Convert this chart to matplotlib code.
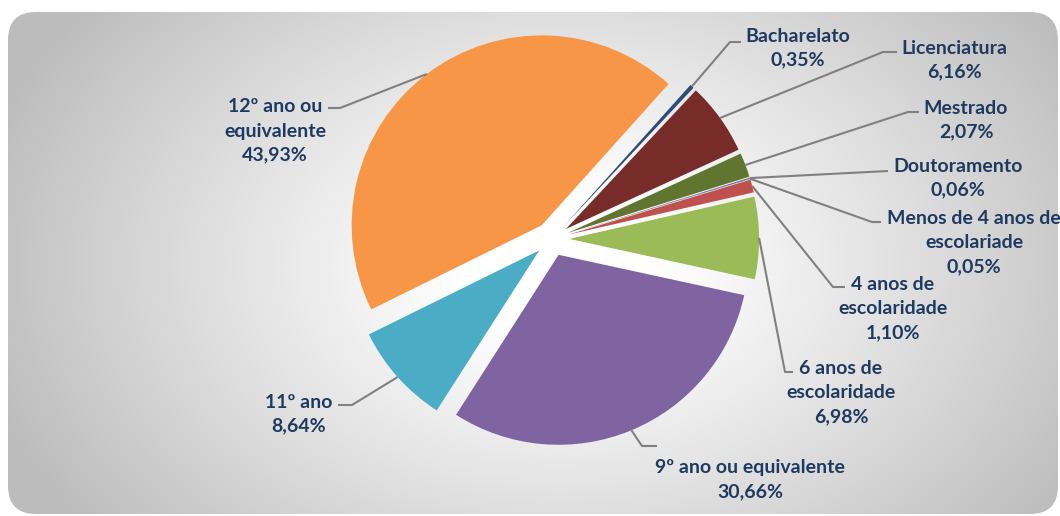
import numpy as np
import matplotlib
matplotlib.use('Agg')
import matplotlib.pyplot as plt
from matplotlib.patches import FancyBboxPatch

# data
categorias = ['Menos de 4 anos de\nescolariade', '4 anos de\nescolaridade', '6 anos de\nescolaridade',
              '9º ano ou equivalente', '11º ano', '12º ano ou\nequivalente',
              'Bacharelato', 'Licenciatura', 'Mestrado', 'Doutoramento']
percentagens = [0.05, 1.10, 6.98, 30.66, 8.64, 43.93, 0.35, 6.16, 2.07, 0.06]
cores = ['#4F81BD', '#C0504D', '#9BBB59', '#8064A2', '#4BACC6', '#F79646',
         '#2C4D75', '#772C2A', '#5F7530', '#4D3B62']

W, H = 1060, 516
text_color = '#1F3A60'
line_color = '#808080'

fig = plt.figure(figsize=(W / 100, H / 100), dpi=100)
ax = fig.add_axes([0, 0, 1, 1])
ax.axis('off')

# background: rounded box with radial gray gradient
box = FancyBboxPatch((8, H - 514), 1050, 502, boxstyle='round,pad=0,rounding_size=28',
                     facecolor='none', edgecolor='none', zorder=0)
ax.add_patch(box)
yy, xx = np.mgrid[0:H, 0:W]
r = np.sqrt(((xx - 560) / 600.0) ** 2 + ((yy - 250) / 420.0) ** 2)
g = 1.0 - 0.26 * np.clip((r - 0.15) / 0.85, 0, 1) ** 1.1
img = np.dstack([g, g, g])
im = ax.imshow(img, extent=(0, W, H, 0), origin='upper', zorder=0, aspect='auto')
im.set_clip_path(box)

# pie (explode is an absolute offset, so scale it by the radius)
cx, cy, R = 552, H - 239, 190
wedges, _ = ax.pie(percentagens, colors=cores, startangle=17, counterclock=False,
                   radius=R, center=(cx, cy), explode=[0.09 * R] * len(percentagens),
                   wedgeprops=dict(linewidth=0), frame=True)
ax.set_xlim(0, W)
ax.set_ylim(0, H)
ax.axis('off')
for w in wedges:
    w.set_zorder(2)

labels = [f"{c}\n{p:.2f}%".replace('.', ',') for c, p in zip(categorias, percentagens)]

# label block centre, leader knee, leader end (image pixel coords, y down)
layout = [
    ((974, 243), (872, 222), (881, 222)),
    ((893, 309), (833, 287), (845, 287)),
    ((841, 393), (785, 372), (793, 372)),
    ((750, 480), (642, 446), (657, 446)),
    ((299, 414), (352, 405), (338, 405)),
    ((275, 131), (340, 108), (328, 108)),
    ((798, 48), (730, 42), (741, 42)),
    ((954, 60), (883, 52), (897, 52)),
    ((966, 120), (908, 112), (919, 112)),
    ((958, 178), (888, 171), (888, 171)),
]

for w, lab, (tc, knee, end) in zip(wedges, labels, layout):
    mid = np.deg2rad((w.theta1 + w.theta2) / 2)
    ax0 = w.center[0] + w.r * np.cos(mid)
    ay0 = w.center[1] + w.r * np.sin(mid)
    ax.plot([ax0, knee[0], end[0]], [ay0, H - knee[1], H - end[1]],
            color=line_color, lw=1.5, zorder=3, solid_capstyle='butt')
    ax.text(tc[0], H - tc[1], lab, ha='center', va='center', fontsize=14,
            fontweight='bold', family='Lato', color=text_color,
            linespacing=1.5, zorder=4)

fig.savefig('out.png', dpi=100, facecolor='white')
